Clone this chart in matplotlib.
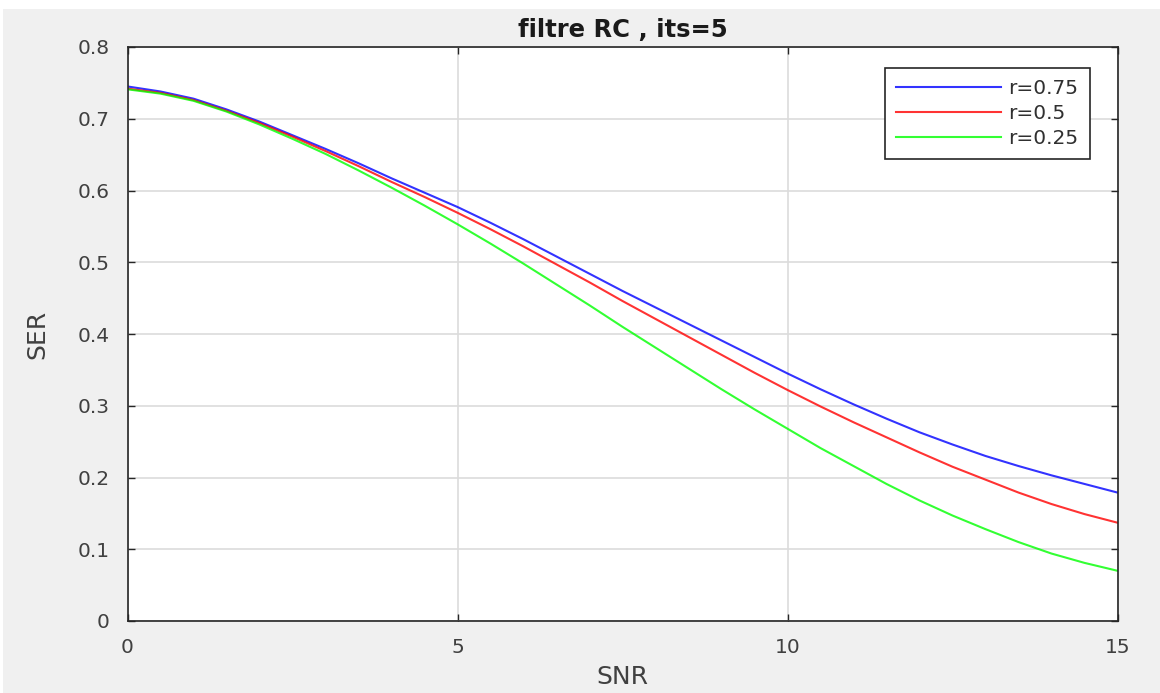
import matplotlib
matplotlib.use("Agg")
import matplotlib.pyplot as plt
from matplotlib.patches import Rectangle

snr = [0, 0.5, 1, 1.5, 2, 2.5, 3, 3.5, 4, 4.5, 5, 5.5, 6, 6.5, 7, 7.5,
       8, 8.5, 9, 9.5, 10, 10.5, 11, 11.5, 12, 12.5, 13, 13.5, 14, 14.5, 15]
ser_r075 = [0.745, 0.738, 0.728, 0.713, 0.696, 0.677, 0.658, 0.638, 0.617, 0.597, 0.577,
            0.555, 0.532, 0.508, 0.484, 0.460, 0.437, 0.414, 0.391, 0.368, 0.345,
            0.323, 0.302, 0.282, 0.263, 0.246, 0.230, 0.216, 0.203, 0.191, 0.179]
ser_r050 = [0.742, 0.736, 0.726, 0.711, 0.694, 0.675, 0.655, 0.634, 0.612, 0.591, 0.569,
            0.546, 0.522, 0.497, 0.472, 0.446, 0.421, 0.396, 0.371, 0.346, 0.322,
            0.299, 0.277, 0.256, 0.235, 0.215, 0.197, 0.179, 0.163, 0.149, 0.137]
ser_r025 = [0.741, 0.735, 0.725, 0.710, 0.692, 0.672, 0.651, 0.628, 0.604, 0.579, 0.553,
            0.526, 0.498, 0.469, 0.440, 0.410, 0.381, 0.352, 0.323, 0.295, 0.268,
            0.241, 0.216, 0.191, 0.168, 0.147, 0.128, 0.110, 0.094, 0.081, 0.070]
labels = ["r=0.75", "r=0.5", "r=0.25"]
colors = ["#0000ff", "#ff0000", "#00ff00"]

fig = plt.figure(figsize=(11.6, 6.93), dpi=100)
fig.patch.set_facecolor("white")
fig.patches.append(Rectangle((3/1160, 0), 1, 1 - 9/693, transform=fig.transFigure,
                             facecolor="#f0f0f0", edgecolor="none", zorder=-10))

ax = fig.add_axes([127.5/1160, 1 - 621/693, (1117.5-127.5)/1160, (621-47)/693])
ax.set_facecolor("white")

for y, lab, c in zip([ser_r075, ser_r050, ser_r025], labels, colors):
    ax.plot(snr, y, color=c, lw=1.5, label=lab, alpha=0.8)

ax.set_xlim(0, 15)
ax.set_ylim(0, 0.8)
ax.set_xticks([0, 5, 10, 15])
ax.set_yticks([0, 0.1, 0.2, 0.3, 0.4, 0.5, 0.6, 0.7, 0.8])
ax.set_yticklabels(["0", "0.1", "0.2", "0.3", "0.4", "0.5", "0.6", "0.7", "0.8"])
ax.grid(True, color="#dcdcdc", lw=1.2)
ax.set_axisbelow(True)
ax.tick_params(direction="in", top=True, right=True, length=5, width=1,
               colors="#262626", labelcolor="#404040", labelsize=14.5)
ax.tick_params(axis="x", pad=12)
ax.tick_params(axis="y", pad=13)
for s in ax.spines.values():
    s.set_color("#262626")
    s.set_linewidth(1.2)

ax.set_title("filtre RC , its=5", fontsize=17.5, fontweight="bold", color="#1a1a1a", pad=7)
ax.set_xlabel("SNR", fontsize=18, color="#404040", labelpad=6)
ax.set_ylabel("SER", fontsize=18, color="#404040", labelpad=20)

leg = ax.legend(loc="upper right", bbox_to_anchor=(0.972, 0.963), borderaxespad=0,
                fontsize=14.5, fancybox=False, framealpha=1, edgecolor="#262626",
                handlelength=5.2, handletextpad=0.4, borderpad=0.55, labelspacing=0.3,
                labelcolor="#303030")
leg.get_frame().set_linewidth(1.2)

fig.savefig("out.png", dpi=100)
